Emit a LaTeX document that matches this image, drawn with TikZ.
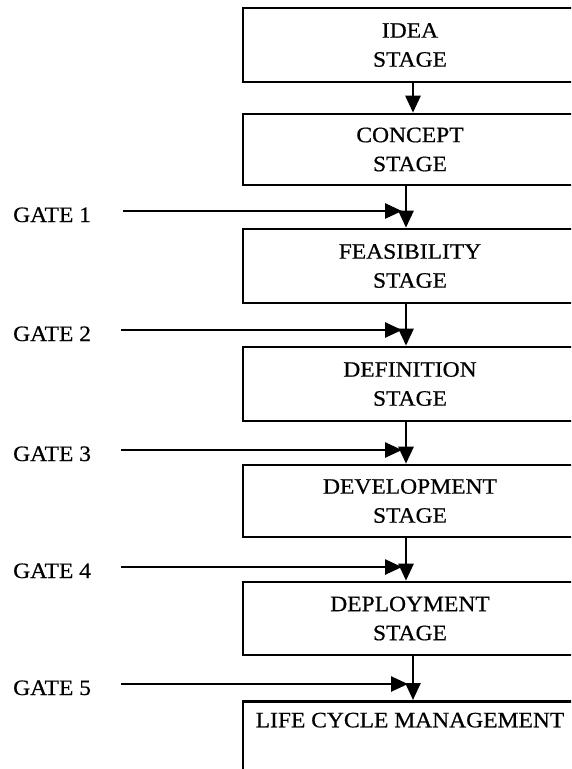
\documentclass[tikz,border=0pt]{standalone}
\usepackage{fontspec}
\setmainfont[FakeStretch=1.07,FakeBold=0.6]{Liberation Serif}
\usetikzlibrary{arrows.meta}
\begin{document}
\begin{tikzpicture}[x=1pt,y=-1pt,
  stagebox/.style={draw,line width=2.6pt,minimum width=334pt,inner sep=0pt,align=center,
     font=\fontsize{22}{29}\selectfont},
  gatelabel/.style={anchor=base west,inner sep=0pt,font=\fontsize{22}{25}\selectfont},
  flow/.style={line width=2.6pt,-{Triangle[length=17pt,width=15pt]}}]
\useasboundingbox (0,0) rectangle (571,769);
\clip (0,0) rectangle (571,769);
\fill[white] (0,0) rectangle (571,769);
\node[stagebox,minimum height=74pt] (b1) at (410,45) {IDEA\\STAGE};
\node[stagebox,minimum height=71pt] (b2) at (410,149.5) {CONCEPT\\STAGE};
\node[stagebox,minimum height=74pt] (b3) at (410,266) {FEASIBILITY\\STAGE};
\node[stagebox,minimum height=74pt] (b4) at (410,384) {DEFINITION\\STAGE};
\node[stagebox,minimum height=72pt] (b5) at (410,501) {DEVELOPMENT\\STAGE};
\node[stagebox,minimum height=73pt] (b6) at (410,618.5) {DEPLOYMENT\\STAGE};
\node[stagebox,anchor=north,inner ysep=10pt,text height=16pt,text depth=100pt] (b7) at (410,700) {LIFE CYCLE MANAGEMENT};
% vertical arrows
\draw[flow] ([xshift=3pt]b1.south) -- ([xshift=3pt]b2.north);
\draw[flow] ([xshift=-4pt]b2.south) -- ([xshift=-4pt]b3.north);
\draw[flow] ([xshift=-4pt]b3.south) -- ([xshift=-4pt]b4.north);
\draw[flow] ([xshift=-4pt]b4.south) -- ([xshift=-4pt]b5.north);
\draw[flow] ([xshift=-4pt]b5.south) -- ([xshift=-4pt]b6.north);
\draw[flow] ([xshift=3pt]b6.south) -- ([xshift=3pt]b7.north);
% gates
\node[gatelabel] (g1) at (13,222) {GATE 1};
\node[gatelabel] (g2) at (13,341) {GATE 2};
\node[gatelabel] (g3) at (13,461) {GATE 3};
\node[gatelabel] (g4) at (13,578) {GATE 4};
\node[gatelabel] (g5) at (13,695) {GATE 5};
\coordinate (s1) at (123,211); \coordinate (e1) at (402,211);
\coordinate (s2) at (121,330); \coordinate (e2) at (402,330);
\coordinate (s3) at (121,450); \coordinate (e3) at (402,450);
\coordinate (s4) at (121,567); \coordinate (e4) at (402,567);
\coordinate (s5) at (121,684); \coordinate (e5) at (408,684);
\draw[flow] (s1) -- (e1);
\draw[flow] (s2) -- (e2);
\draw[flow] (s3) -- (e3);
\draw[flow] (s4) -- (e4);
\draw[flow] (s5) -- (e5);
\end{tikzpicture}
\end{document}
